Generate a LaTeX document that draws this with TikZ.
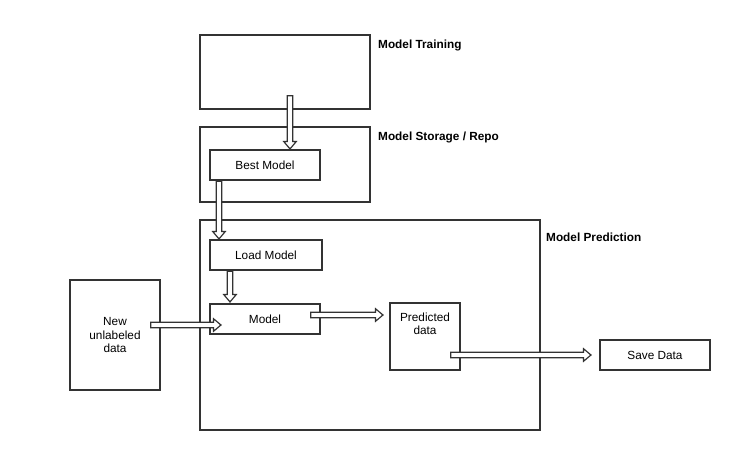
\documentclass[tikz,border=0pt]{standalone}
\usepackage{fontspec}
\setmainfont{Liberation Sans}
\usepackage{tikz}
\usetikzlibrary{shapes.arrows, positioning, calc}

% hollow block arrow from #1 to #2
\newcommand{\pipeto}[2]{\path let \p1=($(#2)-(#1)$), \n1={veclen(\x1,\y1)}, \n2={atan2(\y1,\x1)} in
  node[hollowarr, minimum height=\n1, rotate=\n2] at ($(#1)!0.5!(#2)$) {};}

\begin{document}
\begin{tikzpicture}[x=1pt, y=-1pt,
  box/.style={draw=black!80, line width=1.4pt, rectangle, inner sep=0pt, font=\fontsize{11.8}{13.5}\selectfont, align=center},
  title/.style={anchor=west, font=\fontsize{11.8}{13}\selectfont\bfseries, inner sep=0pt},
  hollowarr/.style={single arrow, draw=black!80, fill=white, line width=1.2pt, inner sep=0pt, text height=4.4pt, text depth=0pt, text width=0pt, single arrow head extend=3.4pt, single arrow tip angle=80}]

\useasboundingbox (0,0) rectangle (736,450);

% outer frames
\node[box, minimum width=170pt, minimum height=74pt] (training) at (285,72) {};
\node[box, minimum width=170pt, minimum height=75pt] (storage) at (285,164.5) {};
\node[box, minimum width=340pt, minimum height=210pt] (prediction) at (370,325) {};

\node[title] (trainlbl) at (378,45) {Model Training};
\node[title] (storelbl) at (378,137) {Model Storage / Repo};
\node[title] (predlbl) at (546,237) {Model Prediction};

% inner boxes
\node[box, minimum width=110pt, minimum height=30pt] (best) at (265,165) {Best Model};
\node[box, minimum width=112pt, minimum height=30pt] (load) at (266,255) {Load Model};
\node[box, minimum width=110pt, minimum height=30pt] (model) at (265,319) {Model};
\node[box, minimum width=90pt, minimum height=110pt] (newdata) at (115,335) {New\\unlabeled\\data};
\node[box, minimum width=70pt, minimum height=67pt] (predicted) at (425,336.5) {Predicted\\data\\[12pt]};
\node[box, minimum width=110pt, minimum height=30pt] (save) at (655,355) {Save Data};

% arrow ends
\coordinate (t1) at (290,94);
\coordinate (n1) at (149,325);
\coordinate (m1) at (309,315);
\coordinate (p1) at (449,355);

\pipeto{t1}{$(best.north)+(25,-2)$}
\pipeto{$(best.south)+(-46,-1)$}{$(load.north)+(-47,-2)$}
\pipeto{$(load.south)+(-36,-1)$}{$(model.north)+(-35,-3)$}
\pipeto{n1}{$(model.west)+(10,6)$}
\pipeto{m1}{$(m1 -| predicted.west)+(-8,0)$}
\pipeto{p1}{$(p1 -| save.west)+(-10,0)$}

\end{tikzpicture}
\end{document}
